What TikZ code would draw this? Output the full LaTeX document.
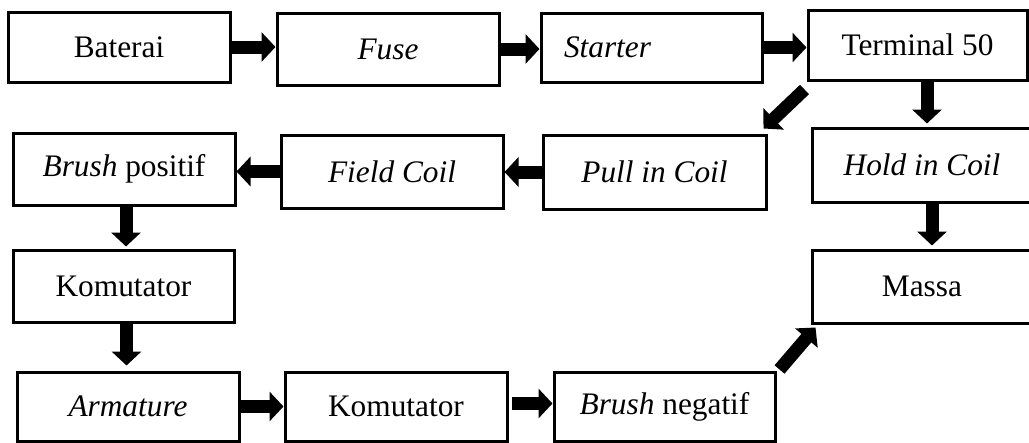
\documentclass[tikz,border=0pt]{standalone}
\usepackage{fontspec}
\setmainfont{Liberation Serif}
\usetikzlibrary{arrows.meta,calc}
\begin{document}
\begin{tikzpicture}[x=0.75pt,y=-0.75pt,
  box/.style={draw=black,line width=2.25pt,rectangle,inner sep=0pt,
    font=\fontsize{23.5pt}{28pt}\selectfont},
  flow/.style={draw=black,line width=9.75pt,line cap=butt,
    -{Triangle[width=21.75pt,length=10.5pt]}}]
\useasboundingbox (0,0) rectangle (1029,443);
\clip (0,0) rectangle (1029,443);
% row 1
\node[box,minimum width=166.5pt,minimum height=52.5pt] (bat) at (119,47) {Baterai};
\node[box,minimum width=166.5pt,minimum height=54pt] (fuse) at (388,49) {\itshape Fuse};
\node[box,minimum height=51.75pt,text width=131.25pt,inner xsep=17.25pt,align=left] (starter) at (651.5,47.5) {\itshape Starter};
\node[box,minimum width=164.25pt,minimum height=52.5pt] (term) at (917.5,45) {Terminal 50};
% row 2
\node[box,minimum width=166.5pt,minimum height=54pt] (bpos) at (124,169) {\itshape Brush\upshape{} positif};
\node[box,minimum width=166.5pt,minimum height=54.75pt] (field) at (392,171.5) {\itshape Field Coil};
\node[box,minimum width=167.25pt,minimum height=55.5pt] (pull) at (654.5,172) {\itshape Pull in Coil};
\node[box,minimum width=165pt,minimum height=55.5pt] (hold) at (922,165) {\itshape Hold in Coil};
% row 3
\node[box,minimum width=165.75pt,minimum height=54pt] (kom1) at (123.5,286) {Komutator};
\node[box,minimum width=165pt,minimum height=54.75pt] (massa) at (922,286.5) {Massa};
% row 4
\node[box,minimum width=166.5pt,minimum height=51.75pt] (arm) at (128,406.5) {\itshape Armature};
\node[box,minimum width=166.5pt,minimum height=51.75pt] (kom2) at (396,406.5) {Komutator};
\node[box,minimum width=165.75pt,minimum height=51.75pt] (bneg) at (664.5,406.5) {\itshape Brush\upshape{} negatif};
% connectors
\draw[flow] (bat.east) -- (bat.east -| fuse.west);
\draw[flow] (fuse.east) -- (fuse.east -| starter.west);
\draw[flow] (starter.east) -- (starter.east -| term.west);
\draw[flow] ($(term.south west)+(-2,8)$) -- ($(pull.north east)+(-4,-5)$);
\coordinate (t1) at ($(term.south)+(9.5,0)$);
\draw[flow] (t1) -- ($(t1 |- hold.north)+(0,-3)$);
\draw[flow] (pull.west) -- (pull.west -| field.east);
\draw[flow] (field.west) -- (field.west -| bpos.east);
\coordinate (b1) at ($(bpos.south)+(2,0)$);
\draw[flow] (b1) -- ($(b1 |- kom1.north)+(0,-2)$);
\coordinate (k1) at ($(kom1.south)+(3,0)$);
\draw[flow] (k1) -- ($(k1 |- arm.north)+(0,-5)$);
\coordinate (h1) at ($(hold.south)+(10,0)$);
\draw[flow] (h1) -- ($(h1 |- massa.north)+(0,-3)$);
\draw[flow] (arm.east) -- (arm.east -| kom2.west);
\draw[flow] ($(kom2.east)+(3,-3)$) -- ($(kom2.east -| bneg.west)+(0,-3)$);
\draw[flow] ($(bneg.north east)+(3,-1)$) -- ($(massa.south west)+(5,3)$);
\end{tikzpicture}
\end{document}
